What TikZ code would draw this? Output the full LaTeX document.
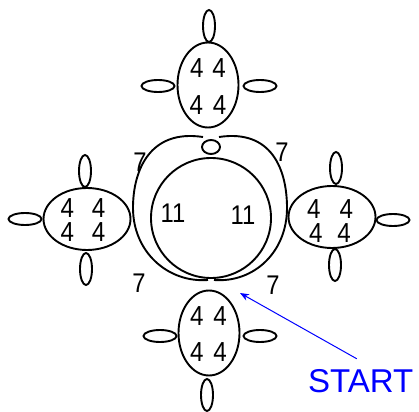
\documentclass[tikz,border=0pt]{standalone}
\usepackage{fontspec}
\setmainfont{Liberation Sans}
\newfontfamily\narrowsans[FakeStretch=0.88]{Liberation Sans}
\usetikzlibrary{arrows.meta, shapes}

\begin{document}
\begin{tikzpicture}[x=1pt,y=-1pt]
\useasboundingbox (0,0) rectangle (419,411);
\tikzset{vp/.style={minimum width=12pt,minimum height=32pt},
         hp/.style={minimum width=33pt,minimum height=12pt},
         vo/.style={minimum width=61pt,minimum height=85pt},
         ho/.style={minimum width=87pt,minimum height=62pt},
         fours/.style={inner sep=0pt,align=center,font=\narrowsans\fontsize{27.5}{#1}\selectfont}}
\begin{scope}[every node/.style={ellipse,draw,line width=1.9pt,inner sep=0pt}]
    % top
    \node[vo] (T) at (208,85) {};
    \node[vp] (Tt) at (209,26) {};
    \node[hp] (Tl) at (158,86) {};
    \node[hp] (Tr) at (260,86) {};
    % left
    \node[ho] (L) at (87,219) {};
    \node[vp] (Lt) at (85,171) {};
    \node[vp] (Lb) at (86,269) {};
    \node[hp] (Ll) at (25,219) {};
    % right
    \node[ho] (R) at (332,217) {};
    \node[vp] (Rt) at (336,168) {};
    \node[vp] (Rb) at (335,265) {};
    \node[hp] (Rr) at (393,220) {};
    % bottom
    \node[vo] (B) at (209,333) {};
    \node[hp] (Bl) at (160,336) {};
    \node[hp] (Br) at (260,336) {};
    \node[vp] (Bb) at (207,395) {};
    % middle
    \node[minimum width=18pt,minimum height=14pt] (o) at (211,147) {};
    \node[circle,minimum width=116pt,minimum height=120pt] (C) at (211,218) {};
\end{scope}

\node[fours=37] (tn) at (208,86.5) {4\hspace{9pt}4\\4\hspace{10pt}4};
\node[fours=24.5] (ln) at (83,220) {4\hspace{18pt}4\\4\hspace{18pt}4};
\node[fours=23.5] (rn) at (330,221) {4\hspace{19pt}4\\4\hspace{15pt}4};
\node[fours=36] (bn) at (208.5,334) {4\hspace{10pt}4\\4\hspace{10pt}4};

\begin{scope}[every node/.style={inner sep=0pt,font=\narrowsans\fontsize{27}{27}\selectfont}]
    \node (s1) at (140,162) {7};
    \node (s2) at (282,152) {7};
    \node (s3) at (139,283) {7};
    \node (s4) at (273,285) {7};

    \node (e1) at (173,213) {11};
    \node (e2) at (243,215) {11};
\end{scope}

\draw[line width=1.9pt] (203,137) .. controls (150,129) and (133,170) .. (133,208)
    .. controls (133,252) and (168,283) .. (208,280);
\draw[line width=1.9pt] (219,137) .. controls (272,129) and (287,170) .. (287,208)
    .. controls (287,252) and (254,283) .. (214,280);

\node[anchor=base west,inner sep=0pt,text=blue,font=\fontsize{33}{33}\selectfont] (S) at (308,392) {START};
\coordinate (st) at (240,293);
\draw[blue,line width=1pt,-{Stealth[length=9pt,width=7pt]}] (S.north) ++(-4,-10) -- (st);
\end{tikzpicture}
\end{document}
